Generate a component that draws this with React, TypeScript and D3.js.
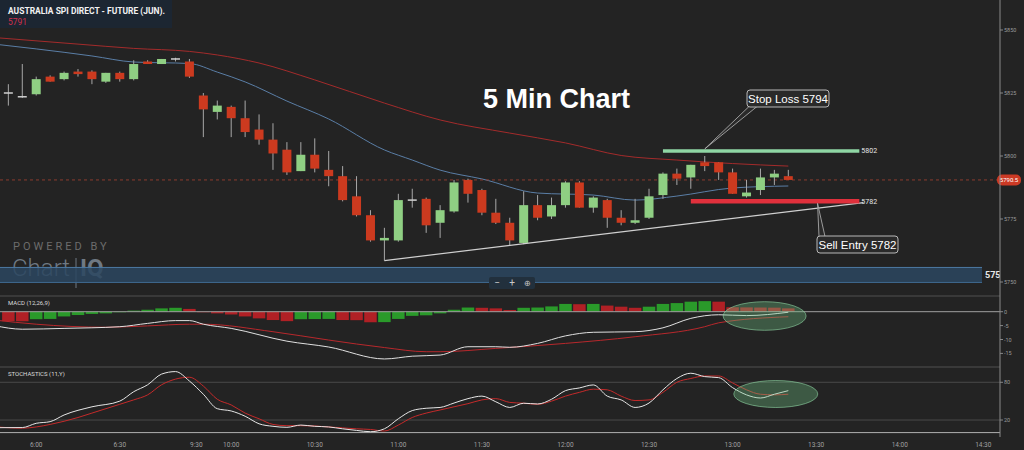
import * as d3 from 'd3'
import { useEffect } from 'react'

// ---- price bars (5 min), index 0 = first visible bar ----
const OPEN = [5825, 5823.5, 5824.5, 5831.5, 5830.5, 5833.5, 5833.5, 5829.5, 5833, 5830.5, 5837.5, 5836.5, 5838.5, 5837.5, 5824, 5817.5, 5819.5, 5815, 5810.5, 5806.5, 5802.5, 5794, 5800.5, 5794.5, 5792, 5784, 5776.5, 5766.5, 5766.5, 5782.5, 5783, 5773.5, 5778, 5790.5, 5786.5, 5777.5, 5773.5, 5765.5, 5780.5, 5776, 5780.5, 5789.5, 5779.5, 5782.5, 5775.5, 5773.5, 5775.5, 5784.5, 5793, 5791.5, 5797.5, 5797.5, 5793.5, 5784, 5786.5, 5791.5, 5792]
const HIGH = [5828.5, 5836.5, 5831.5, 5832, 5833.5, 5834.5, 5834, 5833, 5833.5, 5838, 5838, 5838.5, 5839, 5838.5, 5825, 5822, 5820, 5822, 5816.5, 5813, 5805.5, 5805.5, 5807, 5802, 5796, 5792, 5778.5, 5771.5, 5785, 5787, 5783.5, 5780.5, 5790.5, 5791, 5787, 5783, 5775.5, 5786, 5784.5, 5783.5, 5790, 5790, 5784, 5783, 5778.5, 5783, 5787, 5793.5, 5795, 5796.5, 5800, 5797.5, 5795, 5790.5, 5795, 5794.5, 5794.5]
const LOW = [5820, 5823, 5824, 5829.5, 5830, 5831.5, 5828.5, 5829, 5829.5, 5830, 5836.5, 5836.5, 5837.5, 5831, 5807.5, 5814.5, 5807.5, 5807.5, 5804.5, 5794.5, 5792.5, 5794, 5793.5, 5788, 5782, 5776, 5766, 5758.5, 5766, 5779.5, 5769.5, 5767.5, 5777.5, 5781.5, 5776.5, 5773, 5764.5, 5765, 5774.5, 5775, 5779.5, 5779.5, 5777.5, 5771.5, 5772.5, 5773, 5775, 5783, 5788.5, 5787, 5794, 5790.5, 5785, 5783.5, 5784.5, 5788.5, 5790.5]
const CLOSE = [5825, 5823.5, 5830.5, 5829.5, 5833, 5832.5, 5830.5, 5833, 5830.5, 5836.5, 5836.5, 5838.5, 5838.5, 5831.5, 5818.5, 5820, 5815, 5809.5, 5806.5, 5801, 5793.5, 5800.5, 5795, 5792, 5782.5, 5776.5, 5766.5, 5767.5, 5782.5, 5782.5, 5772.5, 5778.5, 5789.5, 5785, 5777.5, 5773.5, 5766.5, 5780.5, 5775.5, 5780.5, 5789.5, 5779.5, 5783.5, 5775.5, 5773.5, 5774.5, 5784, 5793, 5791, 5796.5, 5796, 5793.5, 5785, 5785.5, 5791.5, 5793, 5790.5]

// moving averages (bar index, value)
const MA_SLOW_BARS = [-1, 5, 9, 13, 15, 18, 22, 27, 31, 36, 40, 44, 48, 52, 56]
const MA_SLOW = [5847.0, 5844.4, 5842.7, 5841.5, 5840.1, 5836.9, 5830.2, 5821.0, 5814.3, 5809.1, 5805.2, 5800.2, 5798.4, 5797.0, 5796.0]
const MA_FAST_BARS = [-1, 2, 6, 9, 13, 15, 17, 20, 23, 27, 29, 31, 34, 38, 42, 45, 48, 52, 56]
const MA_FAST = [5844.4, 5842.5, 5839.7, 5837.3, 5836.7, 5833.3, 5829.4, 5821.8, 5814.7, 5802.4, 5798.4, 5794.4, 5790.9, 5785.3, 5784.5, 5782.5, 5784.1, 5787.3, 5788.1]

// MACD (12,26,9)
const HIST = [-3.4, -3.45, -2.7, -2.6, -1.7, -1.2, -0.8, -0.6, -0.2, 0.4, 0.7, 1.2, 1.4, 1.0, -0.2, -0.6, -1.0, -1.7, -2.4, -3.0, -3.4, -2.7, -2.65, -2.6, -3.0, -3.05, -3.8, -3.75, -2.6, -1.5, -1.3, -0.6, 0.7, 1.5, 1.4, 1.2, 0.6, 1.4, 1.5, 1.9, 2.8, 2.7, 2.8, 2.2, 1.8, 1.4, 1.8, 2.8, 3.1, 3.6, 3.8, 3.6, 1.6, 1.55, 1.5, 1.45, 1.2]
const MACD_BARS = [-1, 1, 4, 8, 10, 12, 13, 14, 16, 20, 23, 27, 29, 31, 33, 35, 36, 38, 40, 42, 45, 47, 49, 51, 53, 56]
const MACD = [-5.0, -6.3, -6.0, -5.4, -4.2, -3.2, -3.2, -4.5, -6.0, -10.6, -12.7, -17.0, -16.0, -15.6, -12.6, -12.6, -12.8, -11.4, -8.7, -7.4, -7.2, -5.8, -2.4, -1.1, -1.4, -0.2]
const SIGNAL_BARS = [-1, 2, 7, 10, 13, 14, 19, 23, 27, 30, 31, 35, 40, 45, 50, 51, 56]
const SIGNAL = [-3.0, -4.5, -5.6, -5.1, -4.5, -4.5, -7.2, -10.2, -12.9, -14.4, -14.4, -13.2, -11.4, -9.0, -5.4, -4.0, -1.8]

// Stochastics (11,Y)
const K_BARS = [-1, 1, 2, 3, 4, 6, 8, 9, 10, 11, 12, 13, 14, 15, 16, 17, 18, 19, 20, 21, 22, 23, 24, 25, 26, 27, 28, 29, 30, 31, 32, 33, 34, 35, 36, 37, 38, 39, 40, 41, 42, 43, 44, 45, 46, 47, 48, 49, 50, 51, 52, 53, 54, 55, 56]
const K = [7.8, 8, 14.8, 17.4, 28, 41, 50, 65, 76, 93, 97, 82, 61, 38, 34.4, 26, 14, 10, 8.4, 12, 10, 9, 6, 3.5, 1.4, 6, 22, 35, 38.7, 40, 47, 54, 58, 49, 40, 46.7, 45.5, 53, 66.7, 71, 75.8, 58, 52, 40, 47, 68, 86, 94.4, 89, 87.4, 71.5, 60, 55, 61, 66.7]
const D_BARS = [-1, 1, 2, 3, 5, 6, 8, 9, 10, 11, 12, 13, 14, 15, 16, 17, 18, 19, 20, 21, 22, 23, 24, 25, 26, 27, 28, 29, 30, 31, 32, 33, 34, 35, 36, 37, 38, 39, 40, 41, 42, 43, 44, 45, 46, 47, 48, 49, 50, 51, 52, 53, 54, 55, 56]
const D = [9.4, 7, 9, 13, 24, 31, 45, 52, 60, 76, 85, 88, 74, 53, 44, 31, 22, 13, 11, 11, 10.5, 9, 7.5, 6, 5, 2.5, 12, 24, 31, 36, 41, 46, 52, 54, 48, 46.7, 45, 50, 58, 64, 69, 68, 58, 51, 52, 64, 80, 86, 90, 90, 79, 68, 61, 60, 61]

const TIME_TICK_BARS = [2, 8, 13.5, 16, 22, 28, 34, 40, 46, 52, 58, 64, 70]
const TIME_TICK_LABELS = ['6:00', '6:30', '9:30', '10:00', '10:30', '11:00', '11:30', '12:00', '12:30', '13:00', '13:30', '14:00', '14:30']
const PRICE_TICKS = [5850, 5825, 5800, 5775, 5750]
const MACD_TICKS = [0, -5, -10, -15]
const STOCH_TICKS = [80, 20]

const LAST_PRICE = 5790.5
const STOP_LOSS = 5802
const SELL_ENTRY = 5782
const ZONE_PRICE = 5753
const TREND_BARS = [27, 61.4]
const TREND_PRICES = [5758.5, 5781.5]

const BG = '#232323'
const FONT = 'Roboto, "Liberation Sans", sans-serif'
const UP = '#8fcf83'
const DOWN = '#cc3a1f'
const AXIS_X = 1000

const x = d3.scaleLinear().domain([-0.6, 71.2]).range([0, AXIS_X])
const yMain = d3.scaleLinear().domain([5750, 5850]).range([282, 30])
const yMacd = d3.scaleLinear().domain([-15, 0]).range([353.4, 311.7])
const yStoch = d3.scaleLinear().domain([0, 100]).range([432.6, 369.7])

const zip = (a: number[], b: number[]) => a.map((v, i) => [v, b[i]] as [number, number])
const lineFor = (ys: d3.ScaleLinear<number, number>) =>
  d3.line<[number, number]>().x((d) => x(d[0])).y((d) => ys(d[1])).curve(d3.curveMonotoneX)

export default function App() {
  useEffect(() => {
    document.body.style.margin = '0'
    document.body.style.background = BG
  }, [])

  const bodyW = 9
  const histW = 12.5
  const mainLine = lineFor(yMain)
  const macdLine = lineFor(yMacd)
  const stochLine = lineFor(yStoch)

  const slTip: [number, number] = [x(50), yMain(5802.8)]
  const seTip: [number, number] = [x(58.1), yMain(5781.2)]

  return (
    <svg width={1024} height={450} style={{ display: 'block', background: BG, fontFamily: FONT }}>
      <defs>
        <clipPath id="plot">
          <rect x={0} y={0} width={AXIS_X} height={450} />
        </clipPath>
      </defs>
      <rect width={1024} height={450} fill={BG} />

      {/* header */}
      <rect x={0} y={0} width={172} height={28} fill="#1c2632" />
      <text x={8} y={14} fill="#f2f2f2" fontSize={9} fontWeight={700} textLength={157} lengthAdjust="spacingAndGlyphs">
        AUSTRALIA SPI DIRECT - FUTURE (JUN).
      </text>
      <text x={8} y={25} fill="#d2304e" fontSize={8.5}>{Math.round(LAST_PRICE)}</text>

      {/* watermark */}
      <text x={13} y={250} fill="#6c6c6c" fontSize={11} letterSpacing={3}>POWERED BY</text>
      <text x={12} y={276} fill="#6f7983" fontSize={24} fontWeight={300}>Chart</text>
      <line x1={76} x2={76} y1={258} y2={288} stroke="#6f7983" strokeWidth={1} />
      <text x={80} y={276} fill="#6f7983" fontSize={24} fontWeight={700}>IQ</text>

      {/* support zone */}
      <g clipPath="url(#plot)">
        <rect x={0} y={yMain(ZONE_PRICE) - 7} width={982} height={15} fill="#2b4660" fillOpacity={0.85} />
        <line x1={0} x2={982} y1={yMain(ZONE_PRICE) - 7} y2={yMain(ZONE_PRICE) - 7} stroke="#4d7aa3" />
        <line x1={0} x2={982} y1={yMain(ZONE_PRICE) + 8} y2={yMain(ZONE_PRICE) + 8} stroke="#3f6a90" />
        <text x={985} y={yMain(ZONE_PRICE) + 3.5} fill="#e8e8e8" fontSize={9} fontWeight={700}>{ZONE_PRICE}</text>
      </g>
      <rect x={489} y={277} width={46} height={12} rx={2} fill="#22303d" />
      <text x={497} y={286} fill="#c8c8c8" fontSize={10} textAnchor="middle">−</text>
      <text x={512} y={286} fill="#c8c8c8" fontSize={10} textAnchor="middle">+</text>
      <text x={527} y={286} fill="#c8c8c8" fontSize={8} textAnchor="middle">⊕</text>

      {/* panel separators */}
      <line x1={0} x2={AXIS_X} y1={296} y2={296} stroke="#505050" />
      <line x1={0} x2={AXIS_X} y1={367} y2={367} stroke="#505050" />

      {/* price axis */}
      {PRICE_TICKS.map((v) => (
        <g key={v}>
          <line x1={AXIS_X} x2={AXIS_X + 3} y1={yMain(v)} y2={yMain(v)} stroke="#888" />
          <text x={AXIS_X + 4} y={yMain(v) + 2} fill="#9a9a9a" fontSize={5.5}>{v}</text>
        </g>
      ))}

      <g clipPath="url(#plot)">
        {/* moving averages */}
        <path d={mainLine(zip(MA_SLOW_BARS, MA_SLOW)) || ''} fill="none" stroke="#a32b2b" strokeWidth={1} />
        <path d={mainLine(zip(MA_FAST_BARS, MA_FAST)) || ''} fill="none" stroke="#5a7ea6" strokeWidth={1} />

        {/* last price */}
        <line x1={0} x2={AXIS_X} y1={yMain(LAST_PRICE)} y2={yMain(LAST_PRICE)} stroke="#8c3b2f" strokeDasharray="3,3" />

        {/* candles */}
        {OPEN.map((o, i) => {
          const c = CLOSE[i]
          const cx = x(i)
          const doji = o === c
          const col = doji ? '#cfcfcf' : c > o ? UP : DOWN
          const top = yMain(Math.max(o, c))
          const h = Math.max(1.5, Math.abs(yMain(o) - yMain(c)))
          return (
            <g key={i}>
              <line x1={cx} x2={cx} y1={yMain(HIGH[i])} y2={yMain(LOW[i])} stroke="#a8a8a8" strokeWidth={1} />
              <rect x={cx - bodyW / 2} y={doji ? top - 0.75 : top} width={bodyW} height={h} fill={col} />
            </g>
          )
        })}

        {/* trend line */}
        <line x1={x(TREND_BARS[0])} x2={x(TREND_BARS[1])} y1={yMain(TREND_PRICES[0])} y2={yMain(TREND_PRICES[1])} stroke="#d0d0d0" strokeWidth={1.2} />

        {/* stop / entry levels */}
        <line x1={x(47)} x2={x(61.1)} y1={yMain(STOP_LOSS)} y2={yMain(STOP_LOSS)} stroke="#8fd6a4" strokeWidth={3.5} />
        <line x1={x(49)} x2={x(61.1)} y1={yMain(SELL_ENTRY)} y2={yMain(SELL_ENTRY)} stroke="#e0303c" strokeWidth={4.5} />
        <text x={x(61.1) + 2} y={yMain(STOP_LOSS) + 2.5} fill="#e6e6e6" fontSize={7}>{STOP_LOSS}</text>
        <text x={x(61.1) + 2} y={yMain(SELL_ENTRY) + 2.5} fill="#e6e6e6" fontSize={7}>{SELL_ENTRY}</text>
      </g>

      {/* last price tag */}
      <rect x={AXIS_X - 3} y={yMain(LAST_PRICE) - 5.5} width={24} height={11} rx={5} fill="#cc3a25" />
      <text x={AXIS_X + 9} y={yMain(LAST_PRICE) + 2} fill="#fff" fontSize={6} textAnchor="middle">{LAST_PRICE.toFixed(1)}</text>

      {/* title */}
      <text x={483} y={108} fill="#ffffff" fontSize={27} fontWeight={700} fontFamily='"Liberation Sans", Arial, sans-serif'>5 Min Chart</text>

      {/* callouts */}
      <polygon points={`${slTip[0]},${slTip[1]} 749,106.5 757,106.5`} fill="#2a2a2a" stroke="#b8b8b8" strokeWidth={0.8} />
      <rect x={747} y={90} width={82} height={17} rx={3} fill="#2a2a2a" stroke="#b8b8b8" strokeWidth={1} />
      <text x={788} y={102.5} fill="#fff" fontSize={11.5} textAnchor="middle" fontFamily='"Liberation Sans", Arial, sans-serif'>Stop Loss {5794}</text>
      <polygon points={`${seTip[0]},${seTip[1]} 819,236.5 825,236.5`} fill="#2a2a2a" stroke="#b8b8b8" strokeWidth={0.8} />
      <rect x={817} y={236} width={81} height={17} rx={3} fill="#2a2a2a" stroke="#b8b8b8" strokeWidth={1} />
      <text x={857.5} y={248.5} fill="#fff" fontSize={11.5} textAnchor="middle" fontFamily='"Liberation Sans", Arial, sans-serif'>Sell Entry {SELL_ENTRY}</text>

      {/* MACD panel */}
      <text x={8} y={305} fill="#dcdcdc" fontSize={6}>MACD (12,26,9)</text>
      <g clipPath="url(#plot)">
        {HIST.map((v, i) => {
          const rising = i > 0 && v > HIST[i - 1]
          return (
            <rect key={i} x={x(i) - histW / 2} y={Math.min(yMacd(v), yMacd(0))} width={histW}
              height={Math.abs(yMacd(v) - yMacd(0))} fill={rising ? '#2a9a2a' : '#b02025'} />
          )
        })}
        <line x1={0} x2={AXIS_X} y1={yMacd(0)} y2={yMacd(0)} stroke="#a0a0a0" strokeWidth={1} />
        <path d={macdLine(zip(SIGNAL_BARS, SIGNAL)) || ''} fill="none" stroke="#b8282c" strokeWidth={1} />
        <path d={macdLine(zip(MACD_BARS, MACD)) || ''} fill="none" stroke="#e0e0e0" strokeWidth={1} />
      </g>
      <ellipse cx={x(54.3)} cy={316} rx={41.5} ry={14.3} fill="#6fbf85" fillOpacity={0.35} stroke="#8fd6a4" strokeOpacity={0.6} />
      {MACD_TICKS.map((v) => (
        <g key={v}>
          <line x1={AXIS_X} x2={AXIS_X + 3} y1={yMacd(v)} y2={yMacd(v)} stroke="#888" />
          <text x={AXIS_X + 4} y={yMacd(v) + 2} fill="#9a9a9a" fontSize={5.5}>{v}</text>
        </g>
      ))}

      {/* Stochastics panel */}
      <text x={8} y={376} fill="#dcdcdc" fontSize={6}>STOCHASTICS (11,Y)</text>
      {STOCH_TICKS.map((v) => (
        <g key={v}>
          <line x1={0} x2={AXIS_X} y1={yStoch(v)} y2={yStoch(v)} stroke="#4a4a4a" />
          <line x1={AXIS_X} x2={AXIS_X + 3} y1={yStoch(v)} y2={yStoch(v)} stroke="#888" />
          <text x={AXIS_X + 4} y={yStoch(v) + 2} fill="#9a9a9a" fontSize={5.5}>{v}</text>
        </g>
      ))}
      <g clipPath="url(#plot)">
        <path d={stochLine(zip(D_BARS, D)) || ''} fill="none" stroke="#c42a2a" strokeWidth={1} />
        <path d={stochLine(zip(K_BARS, K)) || ''} fill="none" stroke="#e6e6e6" strokeWidth={1} />
      </g>
      <ellipse cx={x(55.1)} cy={394} rx={42} ry={13.5} fill="#6fbf85" fillOpacity={0.35} stroke="#8fd6a4" strokeOpacity={0.6} />

      {/* x axis */}
      <line x1={0} x2={AXIS_X} y1={yStoch(0)} y2={yStoch(0)} stroke="#b0b0b0" />
      <line x1={AXIS_X} x2={AXIS_X} y1={0} y2={437} stroke="#8a8a8a" />
      {TIME_TICK_BARS.map((b, i) => (
        <text key={b} x={x(b)} y={447} fill="#a0a0a0" fontSize={6.5} textAnchor="middle">{TIME_TICK_LABELS[i]}</text>
      ))}
    </svg>
  )
}
